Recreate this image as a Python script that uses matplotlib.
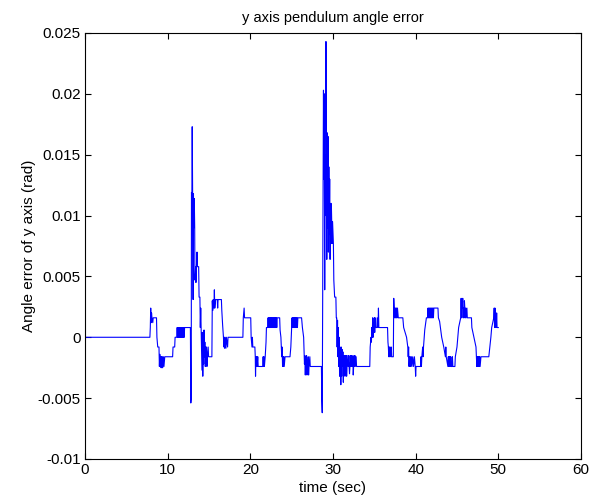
import numpy as np
import matplotlib
matplotlib.use('Agg')
import matplotlib.pyplot as plt
from matplotlib.ticker import FuncFormatter

plt.rcParams['font.family'] = ['Liberation Sans', 'DejaVu Sans']
plt.rcParams['axes.unicode_minus'] = False

# angle error, time in seconds, error in 1e-3 rad
time_s = [
    0.0, 7.85,
    7.9, 7.95, 8.0, 8.05, 8.1, 8.2, 8.25, 8.65,
    8.7, 8.8, 8.95, 9.0, 9.05, 9.1, 9.15, 9.2, 9.25, 9.3, 9.35, 9.4, 9.5, 9.55, 9.65,
    10.6, 10.65, 10.85, 10.9,
    11.1, 11.15, 11.2, 11.25, 11.3, 11.35, 11.4, 11.45, 11.5, 11.55, 11.6, 11.65,
    11.7, 11.75, 11.8, 11.85, 11.9, 11.95, 12.0, 12.05, 12.75,
    12.8, 12.85, 12.88, 12.93, 12.97, 13.02, 13.05, 13.08, 13.12, 13.18, 13.22, 13.27,
    13.3, 13.38, 13.42, 13.48, 13.55, 13.6, 13.75, 13.8, 13.9, 13.95, 14.0, 14.05,
    14.1, 14.15, 14.2, 14.25, 14.3, 14.35, 14.4, 14.45, 14.5, 14.55, 14.6, 14.65,
    14.7, 14.75, 14.8, 14.9, 14.95, 15.35,
    15.4, 15.45, 15.5, 15.6, 15.65, 15.7, 15.8, 16.0, 16.05, 16.1, 16.5, 16.55,
    16.6, 16.65, 16.75, 16.8, 16.85, 16.9, 16.95, 17.05, 17.1, 17.25, 17.3, 19.1,
    19.15, 19.25, 19.3, 20.05, 20.1, 20.2, 20.25, 20.3, 20.55, 20.6, 20.63, 20.68,
    20.72, 20.78, 20.82, 20.9, 20.95, 21.5, 21.55, 21.6, 21.65, 21.7, 21.8, 21.9,
    21.95, 22.1,
    22.15, 22.2, 22.25, 22.3, 22.35, 22.4, 22.45, 22.5, 22.55, 22.6, 22.65, 22.7,
    22.75, 22.8, 22.85, 22.9, 22.95, 23.0, 23.05, 23.1, 23.15, 23.2, 23.25, 23.55,
    23.6, 23.7, 23.75, 23.8, 23.85, 23.9, 23.95, 24.0, 24.05, 24.1, 24.2, 24.8,
    24.9, 25.0, 25.05,
    25.1, 25.15, 25.2, 25.25, 25.3, 25.35, 25.4, 25.45, 25.5, 25.55, 25.6, 25.65,
    25.7, 25.75, 26.2, 26.3, 26.45, 26.5, 26.55,
    26.6, 26.65, 26.7, 26.75, 26.8, 26.85, 26.9, 26.95, 27.0, 27.05, 27.1, 27.2,
    27.25, 28.6,
    28.65, 28.7, 28.75, 28.8, 28.85, 28.9, 28.95, 29.0, 29.05, 29.1, 29.15, 29.2,
    29.25, 29.3, 29.35, 29.4, 29.45, 29.5, 29.55, 29.6, 29.65, 29.7, 29.75, 29.8,
    29.9, 29.95, 30.05, 30.1, 30.2, 30.35, 30.4, 30.45,
    30.5, 30.55, 30.6, 30.65, 30.7, 30.75, 30.8, 30.85, 30.9, 30.95, 31.0, 31.05,
    31.1, 31.15, 31.2, 31.25, 31.3, 31.35, 31.4, 31.45,
    31.5, 31.55, 31.6, 31.65, 31.7, 31.8, 31.85, 31.9, 31.95, 32.0, 32.05, 32.1,
    32.15, 32.2, 32.25, 32.3, 32.35, 32.4, 32.45, 32.5, 32.55, 32.6, 32.65, 32.7,
    32.8, 32.85, 33.5, 34.45,
    34.5, 34.6, 34.65, 34.7, 34.75, 34.8, 34.85, 34.9, 34.95, 35.0, 35.05, 35.1,
    35.15, 35.3, 35.35, 35.45, 35.5, 35.55, 36.6, 36.65, 36.7, 36.75, 36.8, 36.85,
    36.9, 37.0, 37.05, 37.1, 37.3, 37.35, 37.4,
    37.45, 37.5, 37.55, 37.6, 37.65, 37.7, 37.75, 37.8, 37.9, 38.0, 38.45, 38.55,
    38.9, 39.05,
    39.1, 39.15, 39.2, 39.25, 39.3, 39.35, 39.4, 39.5, 39.55, 39.65, 39.75, 39.85,
    39.95, 40.0, 40.05, 40.6, 40.65, 40.7, 40.75, 40.85, 40.9, 40.95, 41.1, 41.3,
    41.45,
    41.5, 41.55, 41.6, 41.65, 41.7, 41.75, 41.8, 41.85, 41.9, 41.95, 42.0, 42.05,
    42.1, 42.15, 42.2, 42.7, 42.75, 42.9, 43.15, 43.4, 43.6, 43.65, 43.7,
    43.9, 43.95, 44.0, 44.05, 44.1, 44.15, 44.2, 44.25, 44.3, 44.4, 44.45, 44.5,
    44.75, 44.8, 45.0, 45.2, 45.45, 45.5, 45.55, 45.6, 45.65, 45.7, 45.75, 45.8,
    45.85, 45.9, 45.95, 46.0, 46.05, 46.1, 46.2, 46.25, 46.75, 46.8, 47.05, 47.3,
    47.35, 47.4, 47.45, 47.5, 47.55, 47.6, 47.65, 47.7, 47.75, 47.8, 47.9, 48.0,
    48.85, 49.1, 49.2, 49.45, 49.5, 49.55, 49.6, 49.65, 49.7, 49.75, 49.8, 49.85,
    50.0,
]

err_mrad = [
    0.0, 0.0,
    0.8, 2.4, 1.2, 2.0, 1.6, 1.2, 1.6, 1.6,
    0.0, -0.8, -0.8, -2.4, -1.4, -2.4, -1.6, -2.5, -1.6, -2.5, -1.6, -2.5, -1.6, -2.4, -1.6,
    -1.6, -0.8, -0.8, 0.0,
    0.0, 0.8, 0.0, 0.8, 0.0, 0.8, 0.0, 0.8, 0.0, 0.8, 0.0, 0.8,
    0.0, 0.8, 0.0, 0.8, 0.0, 0.8, 0.0, 0.8, 0.8,
    -5.4, -5.0, 11.9, 11.5, 17.3, 11.8, 6.8, 3.1, 11.8, 9.0, 11.4, 9.0,
    4.7, 5.8, 4.5, 5.8, 7.0, 5.8, 5.8, 3.3, 3.3, 0.8, 2.4, 0.6,
    -1.2, -2.7, 0.4, -3.2, -0.4, -2.2, 0.6, -1.6, -0.4, -2.4, -0.8, -1.6,
    -0.8, -2.4, -1.6, -0.8, -1.6, -1.6,
    3.0, 2.2, 3.1, 2.4, 3.9, 2.4, 3.1, 3.1, 2.4, 3.1, 3.1, 2.2,
    1.6, 1.0, 0.0, -0.8, 0.0, -0.9, 0.0, -0.9, 0.0, -0.8, 0.0, 0.0,
    1.6, 2.4, 1.6, 1.6, 0.0, -0.8, 0.0, -0.8, -0.8, -1.6, -3.2, -1.6,
    -2.4, -1.6, -2.4, -1.6, -2.4, -2.4, -1.6, -2.4, -1.6, -2.4, -1.6, -0.4,
    0.8, 0.8,
    1.6, 0.8, 1.6, 0.8, 1.6, 0.8, 1.6, 0.8, 1.6, 0.8, 1.6, 0.8,
    1.6, 0.8, 1.6, 0.8, 1.6, 0.8, 1.6, 0.8, 1.6, 0.8, 1.6, 1.6,
    0.6, 0.0, -0.8, -1.6, -0.8, -2.4, -1.6, -2.4, -1.6, -2.4, -1.6, -1.6,
    -0.8, 0.8, 1.6,
    0.8, 1.6, 0.8, 1.6, 0.8, 1.6, 0.8, 1.6, 0.8, 1.6, 0.8, 1.6,
    0.8, 1.6, 1.6, 0.8, 0.0, -1.2, -2.2,
    -1.5, -3.1, -1.6, -2.4, -1.5, -3.1, -2.0, -2.4, -1.6, -3.1, -2.4, -1.6,
    -2.4, -2.4,
    -5.2, -6.2, 3.0, 10.5, 20.3, 13.0, 20.0, 3.9, 15.0, 10.0, 24.3, 17.3,
    6.4, 16.8, 9.0, 16.5, 7.0, 14.0, 8.5, 13.0, 6.4, 11.0, 7.7, 11.0,
    7.7, 9.5, 7.7, 4.7, 3.3, 3.3, 1.6, 1.6,
    -0.8, 1.4, -1.6, 0.8, -2.4, 0.0, -3.2, -0.8, -1.6, -3.9, -0.8, -3.2,
    -1.0, -2.4, -1.2, -3.7, -1.5, -2.4, -1.5, -3.2,
    -1.5, -2.4, -1.5, -3.2, -2.4, -1.5, -2.4, -1.5, -2.4, -3.0, -2.4, -1.5,
    -2.4, -1.5, -2.4, -1.5, -2.4, -1.6, -3.1, -2.4, -1.5, -2.4, -1.5, -2.4,
    -1.6, -2.4, -2.4, -2.4,
    -0.8, 0.0, -0.4, 0.8, 0.0, 1.6, 0.0, 1.2, 0.8, 1.6, 0.4, 1.6,
    0.8, 0.8, 1.6, 0.8, 2.4, 0.8, 0.8, -0.4, -0.8, -1.6, -0.8, -1.6,
    -0.8, -1.6, -0.8, -1.6, -1.6, 3.2, 2.4,
    1.6, 2.4, 1.6, 2.4, 1.6, 2.4, 1.6, 2.4, 1.6, 1.6, 1.6, 0.8,
    0.0, -0.8,
    -1.6, -0.8, -2.4, -1.6, -2.4, -1.6, -2.4, -1.6, -2.4, -1.6, -2.4, -1.6,
    -2.4, -3.2, -2.4, -2.4, -1.6, -2.4, -1.6, -0.8, -1.6, -0.8, 0.6, 1.6,
    1.6,
    2.4, 1.6, 2.4, 1.6, 2.4, 1.6, 2.4, 1.6, 2.4, 1.6, 2.4, 1.6,
    2.4, 1.6, 2.4, 2.4, 1.6, 1.3, 0.0, -0.8, -1.6, -0.8, -1.6,
    -2.4, -1.6, -2.4, -1.6, -2.4, -1.6, -2.4, -1.6, -2.4, -2.4, -1.6, -2.4,
    -2.4, -1.6, -0.8, 0.8, 1.6, 3.2, 1.6, 2.8, 2.4, 3.2, 1.6, 2.4,
    1.6, 3.0, 2.4, 1.6, 2.4, 1.6, 2.4, 1.6, 1.6, 0.8, 0.0, -0.8,
    -1.6, -2.4, -1.6, -2.4, -1.6, -2.4, -1.6, -2.4, -1.6, -2.4, -1.6, -1.6,
    -1.6, 0.0, 0.8, 1.6, 2.4, 0.8, 2.4, 0.8, 1.6, 0.8, 2.0, 0.8,
    0.8,
]

x_ticks = [0, 10, 20, 30, 40, 50, 60]
y_ticks = [-0.01, -0.005, 0, 0.005, 0.01, 0.015, 0.02, 0.025]

t = np.array(time_s)
err = np.array(err_mrad) * 1e-3

fig = plt.figure(figsize=(5.99, 5.03), dpi=100)
ax = fig.add_axes([0.1419, 0.0875, 0.828, 0.8469])

ax.plot(t, err, color='#0000ff', linewidth=0.8)

ax.set_xlim(0, 60)
ax.set_ylim(-0.01, 0.025)
ax.set_xticks(x_ticks)
ax.set_yticks(y_ticks)
ax.yaxis.set_major_formatter(FuncFormatter(lambda v, p: '%g' % round(v, 4)))

ax.tick_params(direction='in', top=True, right=True, length=4, width=0.8,
               labelsize=11, pad=3)
for s in ax.spines.values():
    s.set_linewidth(0.8)

ax.set_title('y axis pendulum angle error', fontsize=10.5, pad=8)
ax.set_xlabel('time (sec)', fontsize=11, labelpad=3)
ax.set_ylabel('Angle error of y axis (rad)', fontsize=11, labelpad=1)

fig.savefig('out.png', dpi=100)
